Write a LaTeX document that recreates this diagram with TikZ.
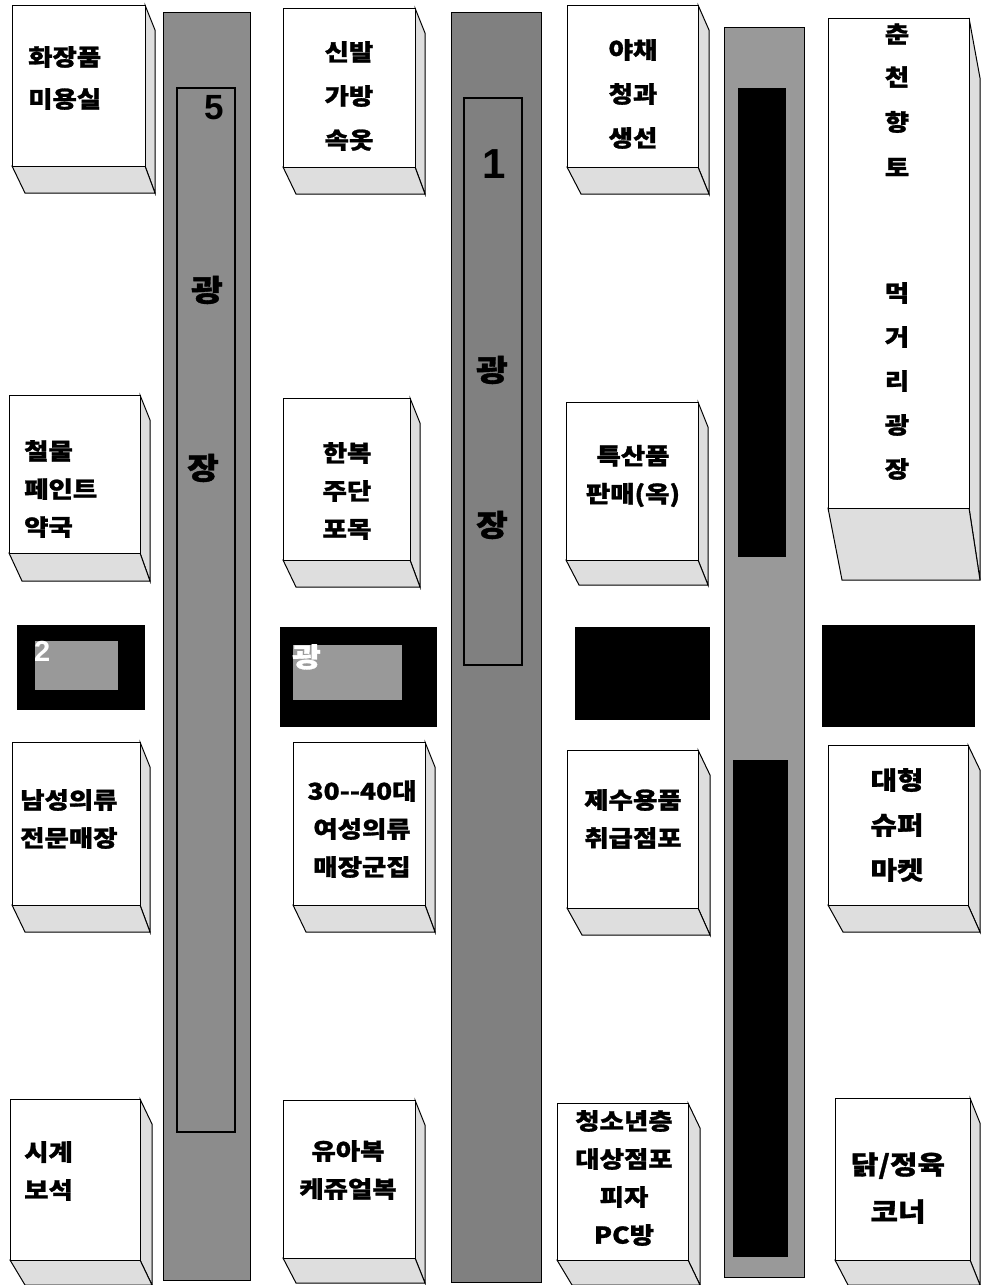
\documentclass[tikz,border=0pt]{standalone}
\usepackage{fontspec}
\newfontfamily\kr{Noto Sans CJK KR}[FakeStretch=1.15,BoldFeatures={FakeBold=1.2}]
\newfontfamily\dig{Liberation Sans}
\begin{document}
\begin{tikzpicture}[x=1pt,y=-1pt,
  front/.style={fill=white,draw=black,line width=1pt},
  face/.style={fill=black!13,draw=black,line width=1pt},
  strip/.style={fill=black!45,draw=black,line width=0.8pt},
  inner/.style={draw=black,line width=1.6pt},
  lbl/.style={font=\kr\bfseries\fontsize{23}{38}\selectfont,align=center,inner sep=0pt},
  lbll/.style={lbl,align=left,anchor=west},
  big/.style={font=\kr\bfseries\fontsize{30}{30}\selectfont,inner sep=0pt},
  num/.style={font=\dig\bfseries\fontsize{35}{35}\selectfont,inner sep=0pt},
  blk/.style={fill=black}]
\useasboundingbox (0,0) rectangle (982,1285);
\newcommand\shop[7]{%
  \filldraw[face] (#3,#2) -- (#3+#5,#2+#7) -- (#3+#5,#4+#6) -- (#3,#4) -- cycle;
  \filldraw[face] (#1,#4) -- (#1+#5+3,#4+#6) -- (#3+#5,#4+#6) -- (#3,#4) -- cycle;
  \filldraw[front] (#1,#2) rectangle (#3,#4);}
% strips
\filldraw[strip] (163,12) rectangle (250,1280);
\draw[inner] (177,88) rectangle (235,1132);
\filldraw[strip,fill=black!50] (451,12) rectangle (541,1282);
\draw[inner,line width=2.4pt] (464,98) rectangle (522,665);
\filldraw[strip,fill=black!40] (724,27) rectangle (804,1277);
\fill[blk] (738,88) rectangle (786,557);
\fill[blk] (733,760) rectangle (788,1257);
\node[num] (n5) at (214,108) {5};
\node[big] (g1) at (207,290) {광};
\node[big] (j1) at (203,468) {장};
\node[num,font=\dig\bfseries\fontsize{42}{42}\selectfont] (n1) at (494,164) {1};
\node[big] (g2) at (492,370) {광};
\node[big] (j2) at (492,525) {장};
% row 1
\shop{12}{5}{145}{166}{10}{27}{25}
\node[lbll,font=\kr\bfseries\fontsize{23}{42}\selectfont] (t11) at (28,78) {화장품\\미용실};
\shop{283}{8}{415}{167}{10}{27}{25}
\node[lbl,font=\kr\bfseries\fontsize{23}{44}\selectfont] (t12) at (349,96) {신발\\가방\\속옷};
\shop{567}{5}{698}{167}{11}{27}{25}
\node[lbl,font=\kr\bfseries\fontsize{23}{44}\selectfont] (t13) at (633,94) {야채\\청과\\생선};
\shop{828}{18}{969}{508}{11}{72}{60}
\foreach \c/\yy in {춘/34,천/77,향/122,토/167,먹/293,거/337,리/381,광/425,장/469}
  \node[lbl] at (897,\yy) {\c};
% row 2
\shop{9}{395}{140}{553}{10}{28}{25}
\node[lbll] (t21) at (24,489) {철물\\페인트\\약국};
\shop{283}{398}{410}{560}{10}{27}{25}
\node[lbl] (t22) at (347,491) {한복\\주단\\포목};
\shop{566}{402}{698}{560}{10}{25}{25}
\node[lbl] (t23) at (633,476) {특산품\\판매(옥)};
% black blocks
\fill[blk] (17,625) rectangle (145,710);
\fill[black!40] (35,641) rectangle (118,690);
\node[num,white,font=\dig\bfseries\fontsize{29}{29}\selectfont,anchor=north west] (n2) at (34,641) {2};
\fill[blk] (280,627) rectangle (437,727);
\fill[black!40] (293,645) rectangle (402,700);
\node[big,white,font=\kr\bfseries\fontsize{27}{27}\selectfont,anchor=north west] (g3) at (292,644) {광};
\fill[blk] (575,627) rectangle (710,720);
\fill[blk] (822,625) rectangle (975,727);
% row 3
\shop{12}{742}{140}{905}{10}{27}{25}
\node[lbll] (t31) at (20,819) {남성의류\\전문매장};
\shop{293}{742}{425}{905}{10}{27}{25}
\node[lbl] (t32) at (362,829) {30--40대\\여성의류\\매장군집};
\shop{567}{750}{698}{908}{12}{27}{25}
\node[lbl] (t33) at (633,819) {제수용품\\취급점포};
\shop{828}{745}{968}{905}{12}{27}{25}
\node[lbl,font=\kr\bfseries\fontsize{25}{45}\selectfont] (t34) at (897,825) {대형\\슈퍼\\마켓};
% row 4
\shop{10}{1099}{140}{1260}{12}{25}{25}
\node[lbll] (t41) at (24,1171) {시계\\보석};
\shop{283}{1100}{415}{1258}{10}{25}{25}
\node[lbl] (t42) at (348,1170) {유아복\\케쥬얼복};
\shop{557}{1103}{688}{1260}{12}{25}{25}
\node[lbl] (t43) at (624,1178) {청소년층\\대상점포\\피자\\PC방};
\shop{835}{1098}{970}{1260}{10}{25}{25}
\node[lbl,font=\kr\bfseries\fontsize{26}{47}\selectfont] (t44) at (898,1188) {닭/정육\\코너};
\end{tikzpicture}
\end{document}
